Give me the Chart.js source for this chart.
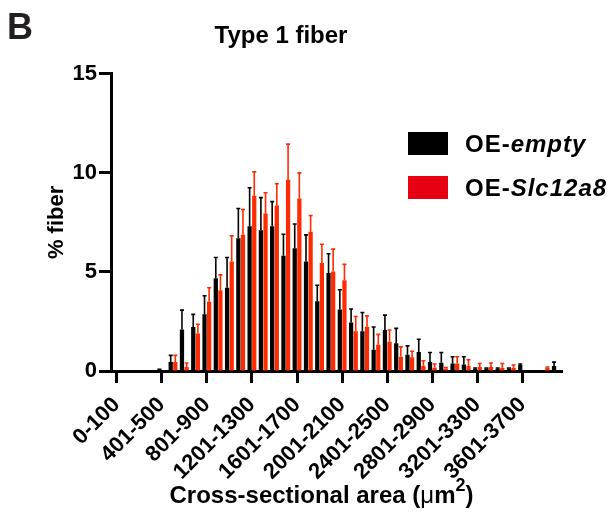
<!DOCTYPE html>
<html>
<head>
<meta charset="utf-8">
<script src="https://cdn.jsdelivr.net/npm/chart.js@4.4.1/dist/chart.umd.min.js"></script>
<style>
  html, body { margin: 0; padding: 0; background: #fff; }
  #wrap { position: relative; width: 614px; height: 520px; }
  #panel { position: absolute; left: 7px; top: 9px; font: bold 36px 'Liberation Sans', Arial, sans-serif; line-height: 35px; color: #231f20; }
  .leg { position: absolute; left: 408px; display: flex; align-items: center; font: bold 24px 'Liberation Sans', Arial, sans-serif; letter-spacing: 1px; line-height: 23px; color: #000; white-space: nowrap; }
  .leg .box { width: 40px; height: 23px; margin-right: 17px; }
</style>
</head>
<body>
<div id="wrap">
  <canvas id="c" width="614" height="520"></canvas>
  <div id="panel">B</div>
  <div id="legend"></div>
</div>
<script>
// bins of fiber cross-sectional area (um^2)
const categories = [
  '0-100', '101-200', '201-300', '301-400', '401-500', '501-600', '601-700', '701-800',
  '801-900', '901-1000', '1001-1100', '1101-1200', '1201-1300', '1301-1400', '1401-1500', '1501-1600',
  '1601-1700', '1701-1800', '1801-1900', '1901-2000', '2001-2100', '2101-2200', '2201-2300', '2301-2400',
  '2401-2500', '2501-2600', '2601-2700', '2701-2800', '2801-2900', '2901-3000', '3001-3100', '3101-3200',
  '3201-3300', '3301-3400', '3401-3500', '3501-3600', '3601-3700', '3701-3800', '3801-3900', '3901-4000'
];
const tickLabels = ['0-100', '401-500', '801-900', '1201-1300', '1601-1700',
                    '2001-2100', '2401-2500', '2801-2900', '3201-3300', '3601-3700'];

// % fiber, mean and SEM
const emptyMean = [0, 0, 0, 0, 0.12, 0.45, 2.1, 2.22, 2.87, 4.68,
                   4.2, 6.7, 7.3, 7.1, 7.3, 5.82, 6.2, 5.53, 3.52, 4.95,
                   3.1, 2.45, 2.0, 1.07, 2.07, 1.4, 0.82, 0.96, 0.45, 0.42,
                   0.38, 0.33, 0.1, 0.12, 0.1, 0.12, 0.3, 0, 0, 0.25];
const emptySem  = [0, 0, 0, 0, 0, 0.34, 0.97, 0.64, 0.93, 1.05,
                   1.53, 1.5, 1.95, 1.65, 1.25, 1.08, 1.22, 1.34, 0.81, 0.97,
                   1.0, 0.68, 0.95, 1.15, 0.75, 0.75, 0.45, 0.64, 0.48, 0.51,
                   0.34, 0.39, 0.05, 0.03, 0.05, 0.03, 0.05, 0, 0, 0.2];
const slcMean   = [0, 0, 0, 0, 0, 0.45, 0.2, 1.89, 3.5, 4.08,
                   5.53, 6.88, 8.85, 7.95, 8.35, 9.65, 8.7, 7.03, 5.45, 5.02,
                   4.58, 2.0, 2.23, 1.32, 1.47, 0.72, 0.7, 0.27, 0.17, 0.12,
                   0.38, 0.25, 0.2, 0.2, 0.17, 0.17, 0, 0, 0.15, 0];
const slcSem    = [0, 0, 0, 0, 0, 0.34, 0.2, 0.47, 0.7, 0.77,
                   1.29, 1.27, 1.2, 1.05, 1.1, 1.8, 1.3, 0.82, 0.95, 1.13,
                   0.8, 0.75, 0.55, 0.53, 0.6, 0.5, 0.3, 0.25, 0.18, 0.06,
                   0.34, 0.32, 0.18, 0.2, 0.21, 0.13, 0, 0, 0.05, 0];

const seriesPrefix = 'OE-';
const seriesGenes = ['empty', 'Slc12a8'];
const barColors = ['#000000', '#ff2a00'];
const legendColors = ['#000000', '#e60012'];

const FONT = "'Liberation Sans', Arial, Helvetica, sans-serif";

// upward-only error bars with a small cap
const errorBars = {
  id: 'errorBars',
  afterDatasetsDraw(chart) {
    const ctx = chart.ctx;
    const yScale = chart.scales.y;
    chart.data.datasets.forEach((ds, di) => {
      const meta = chart.getDatasetMeta(di);
      meta.data.forEach((bar, i) => {
        const sem = ds.sem[i];
        if (!sem) return;
        const top = yScale.getPixelForValue(ds.data[i] + sem);
        ctx.save();
        ctx.strokeStyle = ds.backgroundColor;
        ctx.lineWidth = 1.6;
        ctx.beginPath();
        ctx.moveTo(bar.x, bar.y);
        ctx.lineTo(bar.x, top);
        ctx.moveTo(bar.x - 2, top);
        ctx.lineTo(bar.x + 2, top);
        ctx.stroke();
        ctx.restore();
      });
    });
  }
};

// x axis title with a real superscript 2 and a lighter mu
const xAxisTitle = {
  id: 'xAxisTitle',
  afterDraw(chart) {
    const ctx = chart.ctx;
    const parts = [
      { t: 'Cross-sectional area (', f: 'bold 24px ' + FONT, dy: 0 },
      { t: 'μ', f: '24px ' + FONT, dy: 0 },
      { t: 'm', f: 'bold 24px ' + FONT, dy: 0 },
      { t: '2', f: 'bold 18px ' + FONT, dy: -12 },
      { t: ')', f: 'bold 24px ' + FONT, dy: 0 }
    ];
    ctx.save();
    ctx.fillStyle = '#000';
    ctx.textBaseline = 'alphabetic';
    ctx.textAlign = 'left';
    let total = 0;
    parts.forEach(p => { ctx.font = p.f; p.w = ctx.measureText(p.t).width; total += p.w; });
    const area = chart.chartArea;
    let x = (area.left + area.right) / 2 - 15 - total / 2;
    const baseY = chart.height - 17;
    parts.forEach(p => {
      ctx.font = p.f;
      ctx.fillText(p.t, x, baseY + p.dy);
      x += p.w;
    });
    ctx.restore();
  }
};

const showTick = i => tickLabels.includes(categories[i]);

const chart = new Chart(document.getElementById('c'), {
  type: 'bar',
  data: {
    labels: categories,
    datasets: [
      { label: seriesPrefix + seriesGenes[0], data: emptyMean, sem: emptySem,
        backgroundColor: barColors[0], categoryPercentage: 0.82, barPercentage: 0.92 },
      { label: seriesPrefix + seriesGenes[1], data: slcMean, sem: slcSem,
        backgroundColor: barColors[1], categoryPercentage: 0.82, barPercentage: 0.92 }
    ]
  },
  options: {
    responsive: false,
    animation: false,
    layout: { padding: { left: 0, right: 52, top: 0, bottom: 0 } },
    plugins: {
      legend: { display: false },
      tooltip: { enabled: false },
      title: {
        display: true,
        text: 'Type 1 fiber',
        color: '#000',
        font: { family: FONT, size: 24, weight: 'bold' },
        padding: { top: 22, bottom: 23 }
      }
    },
    scales: {
      x: {
        offset: true,
        grid: {
          drawOnChartArea: false,
          offset: false,
          tickLength: 12,
          tickWidth: 3,
          tickColor: ctx => showTick(ctx.index) ? '#000' : 'rgba(0,0,0,0)'
        },
        border: { display: true, color: '#000', width: 3 },
        ticks: {
          autoSkip: false,
          minRotation: 45,
          maxRotation: 45,
          padding: 9,
          color: '#000',
          font: { family: FONT, size: 22, weight: 'bold' },
          callback: (v, i) => showTick(i) ? categories[i] : ''
        },
        afterFit: s => { s.height = 149; }
      },
      y: {
        min: 0,
        max: 15,
        grid: { drawOnChartArea: false, tickLength: 12, tickWidth: 3, tickColor: '#000' },
        border: { display: true, color: '#000', width: 3 },
        ticks: {
          stepSize: 5,
          padding: 2,
          color: '#000',
          font: { family: FONT, size: 22, weight: 'bold' }
        },
        title: {
          display: true,
          text: '% fiber',
          color: '#000',
          font: { family: FONT, size: 22, weight: 'bold' },
          padding: { top: 44, bottom: 0 }
        },
        afterFit: s => { s.width = 111; }
      }
    }
  },
  plugins: [errorBars, xAxisTitle]
});

// html legend, so the gene names can be italic
const legendTops = [132, 176];
const legendEl = document.getElementById('legend');
chart.data.datasets.forEach((ds, i) => {
  const row = document.createElement('div');
  row.className = 'leg';
  row.style.top = legendTops[i] + 'px';
  row.innerHTML = '<span class="box" style="background:' + legendColors[i] + '"></span>' +
                  '<span>' + seriesPrefix + '<i>' + seriesGenes[i] + '</i></span>';
  legendEl.appendChild(row);
});
</script>
</body>
</html>
